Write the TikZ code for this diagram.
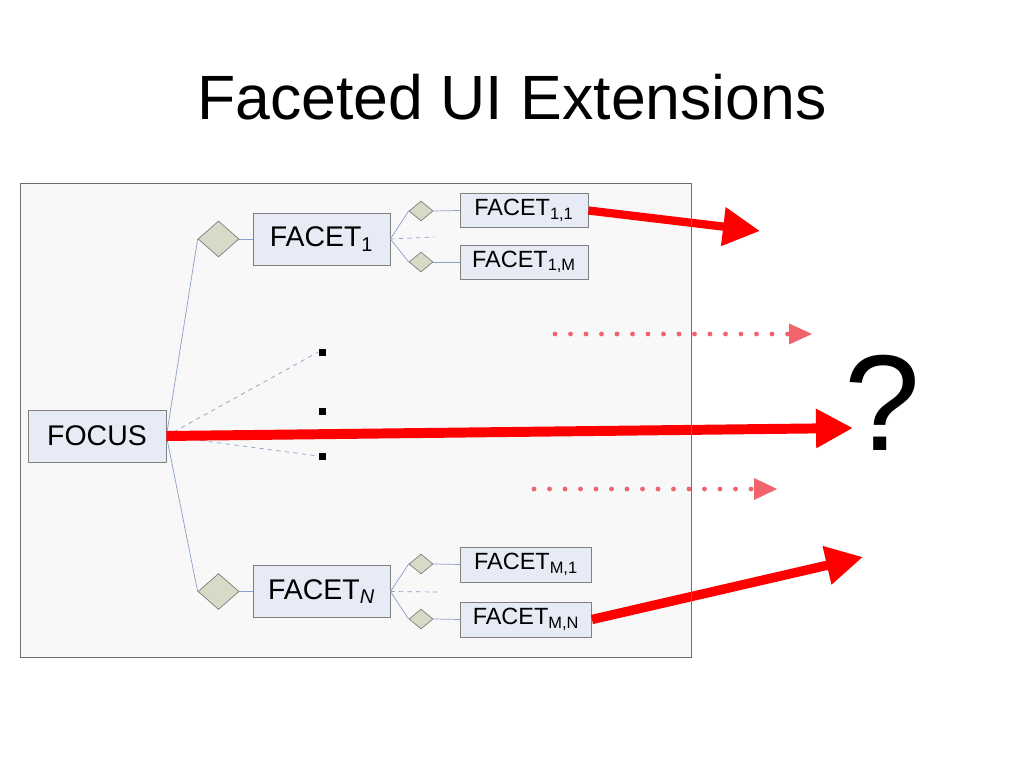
\documentclass[tikz,border=0pt]{standalone}
\usepackage{fontspec}
\setmainfont{Liberation Sans}
\usetikzlibrary{arrows.meta,shapes.geometric}
\newcommand\pxu{0.703125pt}
\definecolor{boxfill}{RGB}{231,235,245}
\definecolor{boxline}{RGB}{128,128,128}
\definecolor{diafill}{RGB}{216,218,200}
\definecolor{conncol}{RGB}{140,160,200}
\definecolor{dotred}{RGB}{242,100,108}
\definecolor{framefill}{RGB}{248,248,248}
\definecolor{frameline}{RGB}{110,110,110}
\begin{document}
\begin{tikzpicture}[x=\pxu,y=-\pxu,
  box/.style={draw=boxline,fill=boxfill,inner sep=0pt,line width=0.6pt},
  bigbox/.style={box,minimum width=137*\pxu,minimum height=52*\pxu,font=\fontsize{20}{24}\selectfont},
  smallbox/.style={box,minimum width=128*\pxu,minimum height=34*\pxu,font=\fontsize{16.5}{20}\selectfont},
  dmd/.style={diamond,draw=boxline,fill=diafill,inner sep=0pt,line width=0.5pt},
  bigdmd/.style={dmd,minimum width=41*\pxu,minimum height=36*\pxu},
  smalldmd/.style={dmd,minimum width=24*\pxu,minimum height=20*\pxu},
  conn/.style={draw=conncol,line width=0.5pt},
  dconn/.style={conn,dash pattern=on 3pt off 3pt},
  sq/.style={fill=black,inner sep=0pt,minimum size=7*\pxu},
  bigarrow/.style={red,-{Triangle[length=26pt,width=26pt]}},
  dotarrow/.style={dotred,line width=3.4pt,line cap=round,dash pattern=on 0pt off 10.9pt}
]
\useasboundingbox (0,0) rectangle (1024,768);
\fill[framefill] (20,183) rectangle (691,657);

% title
\node[anchor=base,font=\fontsize{44}{52}\selectfont] (title) at (512,120) {Faceted UI Extensions};

% nodes
\node[bigbox,minimum width=138*\pxu] (focus) at (97,436) {FOCUS};
\node[bigbox] (f1) at (321.5,239) {FACET\textsubscript{1}};
\node[bigbox] (fn) at (321.5,591.5) {FACET\textsubscript{\itshape N}};
\node[bigdmd] (d1) at (218.5,239) {};
\node[bigdmd] (dn) at (218.5,591.5) {};
\node[smalldmd] (s11) at (421,211) {};
\node[smalldmd] (s1m) at (421,262) {};
\node[smalldmd] (sm1) at (421,564) {};
\node[smalldmd] (smn) at (421,619) {};
\node[smallbox] (f11) at (524,210.5) {FACET\textsubscript{1,1}};
\node[smallbox] (f1m) at (524,262) {FACET\textsubscript{1,M}};
\node[smallbox,minimum width=131*\pxu,minimum height=35*\pxu] (fm1) at (526,564.5) {FACET\textsubscript{M,1}};
\node[smallbox,minimum width=131*\pxu,minimum height=35*\pxu] (fmn) at (526,619.5) {FACET\textsubscript{M,N}};
\node[sq] (q1) at (322,352) {};
\node[sq] (q2) at (322,411) {};
\node[sq] (q3) at (322,456) {};
\node[anchor=base,font=\fontsize{96}{110}\selectfont] (qm) at (882,450) {?};

\coordinate (c1) at (434,237);
\coordinate (cn) at (437,592);
\coordinate (t0) at (853,428);
\coordinate (t1) at (760,231);
\coordinate (t2) at (863,557);
\coordinate (a1) at (555,334);
\coordinate (b1) at (812,334);
\coordinate (a2) at (534,489);
\coordinate (b2) at (777,489);

% connectors
\draw[conn] (focus.east) -- (d1.west);
\draw[conn] (focus.east) -- (dn.west);
\draw[conn] (d1.east) -- (f1.west);
\draw[conn] (dn.east) -- (fn.west);
\draw[conn] (f1.east) -- (s11.west);
\draw[conn] (f1.east) -- (s1m.west);
\draw[conn] (s11.east) -- (f11.west);
\draw[conn] (s1m.east) -- (f1m.west);
\draw[conn] (fn.east) -- (sm1.west);
\draw[conn] (fn.east) -- (smn.west);
\draw[conn] (sm1.east) -- (fm1.west);
\draw[conn] (smn.east) -- (fmn.west);
\draw[dconn] (f1.east) -- (c1);
\draw[dconn] (fn.east) -- (cn);
\draw[dconn] (focus.east) -- (q1.west);
\draw[dconn] (focus.east) -- (q3.west);

% dotted arrows
\draw[dotarrow] (a1) -- ([xshift=-22*\pxu]b1);
\fill[dotred] (b1) -- ++(-23,-10.5) -- ++(0,21) -- cycle;
\draw[dotarrow] (a2) -- ([xshift=-22*\pxu]b2);
\fill[dotred] (b2) -- ++(-23,-11) -- ++(0,22) -- cycle;

% red arrows
\draw[bigarrow,line width=7pt] (focus.east) -- (t0);
\draw[bigarrow,line width=5.8pt] (f11.east) -- (t1);
\draw[bigarrow,line width=6.6pt] (fmn.east) -- (t2);

\draw[frameline,line width=0.7pt] (20,183) rectangle (691,657);
\end{tikzpicture}
\end{document}
